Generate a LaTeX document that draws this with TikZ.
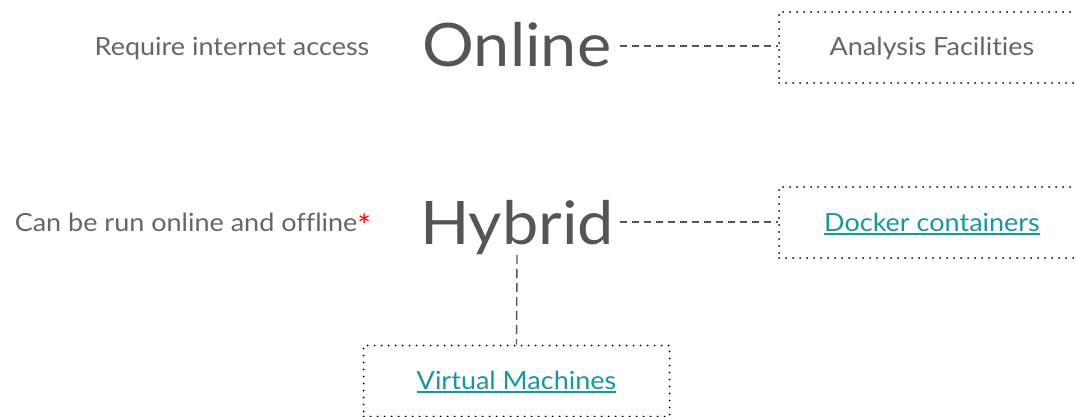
\documentclass[tikz,border=0pt]{standalone}
\usepackage{fontspec}
\setmainfont{Lato}[FakeStretch=1.08, Ligatures=NoCommon]
\definecolor{labelgray}{HTML}{666666}
\definecolor{titlegray}{HTML}{555555}
\definecolor{linkteal}{HTML}{1797A0}
\newcommand\linktext[1]{\setbox0\hbox{#1}\rlap{\rule[-3.5pt]{\wd0}{2pt}}\box0}
\newcommand\redstar{\raisebox{-4.5pt}{\textcolor{red}{\fontsize{30}{30}\selectfont*}}}
\tikzset{
  label/.style={font=\fontsize{25}{29}\selectfont, text=labelgray, anchor=base},
  title/.style={font=\fontsize{60}{68}\selectfont, text=titlegray, anchor=base, inner sep=0pt},
  dotbox/.style={draw=black, line width=2pt, dash pattern=on 0pt off 7pt, line cap=round,
                 minimum width=306pt, minimum height=71pt, inner sep=0pt},
  link/.style={font=\fontsize{25}{29}\selectfont, text=linkteal},
  conn/.style={draw=titlegray, line width=1.4pt, dash pattern=on 7pt off 5pt},
}
\begin{document}
\begin{tikzpicture}[x=1pt,y=-1pt]
  \useasboundingbox (0,0) rectangle (1076,417);

  % left-hand descriptions
  \node[label] (req) at (232,55.5) {Require internet access};
  \node[label] (can) at (193,231.5) {Can be run online and offline\redstar};

  % modes
  \node[title] (online) at (517,67) {Online};
  \node[title] (hybrid) at (517,244) {Hybrid};

  % boxes
  \node[dotbox] (af) at (932,47.5) {};
  \node[label] at (932,55.5) {Analysis Facilities};
  \node[dotbox] (dc) at (932,222.5) {};
  \node[link] at ([yshift=-1.5pt]dc.center) {\linktext{Docker containers}};
  \node[dotbox] (vm) at (516.5,381) {};
  \node[link] at ([yshift=-1.5pt]vm.center) {\linktext{Virtual Machines}};

  % connectors
  \coordinate (onr) at (620,46);
  \coordinate (hyr) at (620,222);
  \coordinate (hyb) at (517,255);
  \draw[conn] (onr) -- (af.west |- onr);
  \draw[conn] (hyr) -- (dc.west |- hyr);
  \draw[conn, dash pattern=on 9pt off 5pt] (hyb) -- (vm.north);
\end{tikzpicture}
\end{document}
